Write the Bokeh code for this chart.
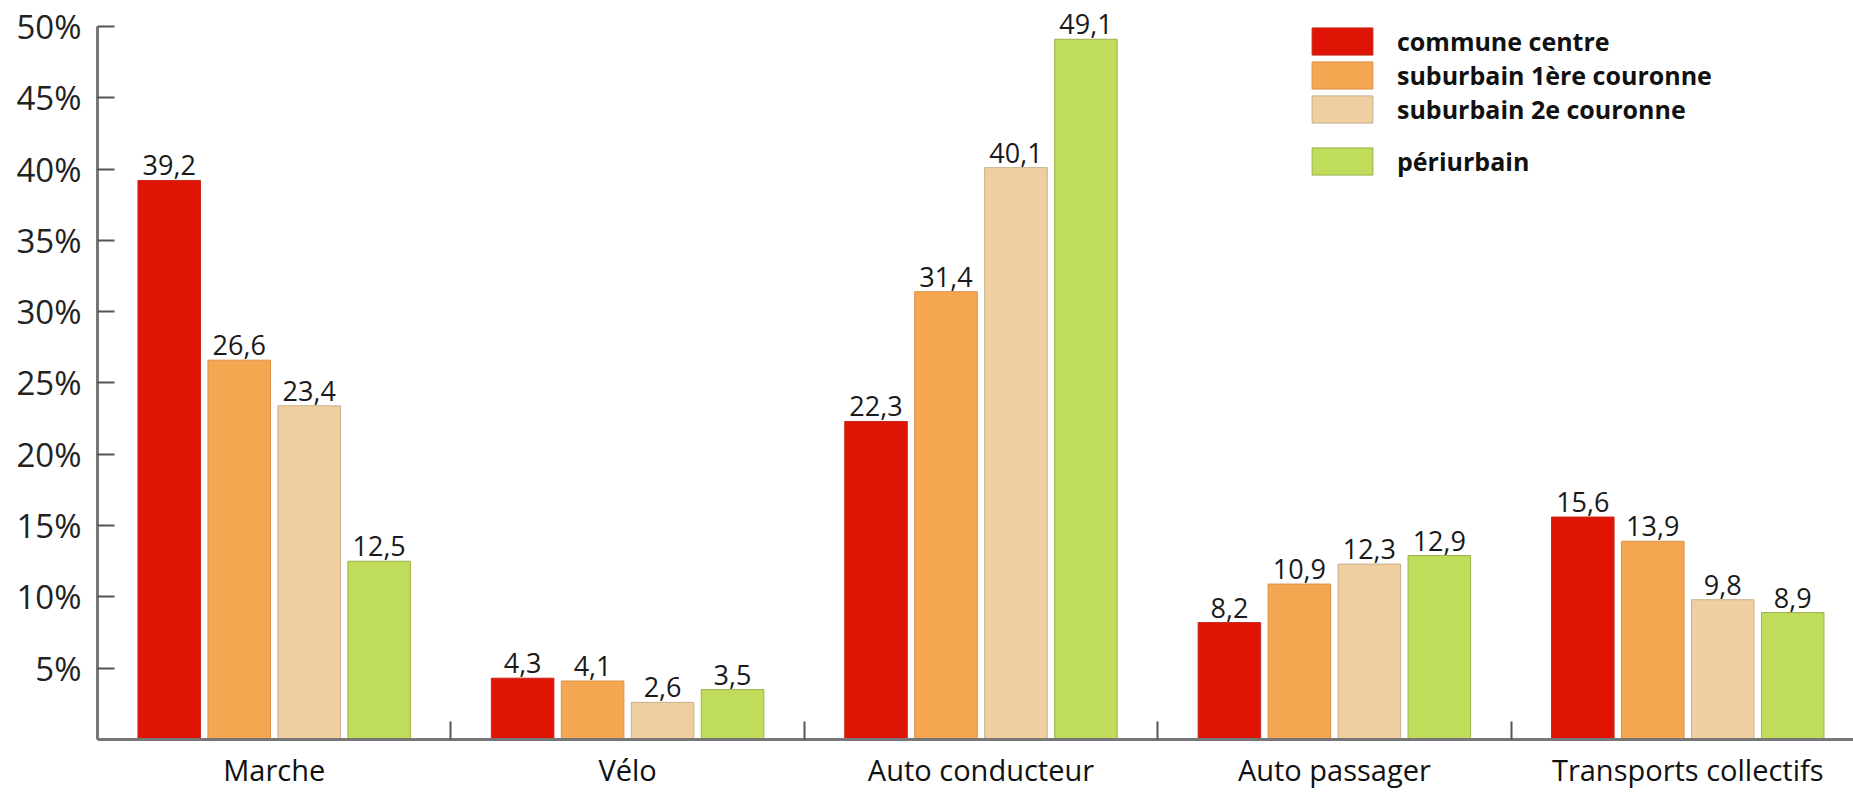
from bokeh.plotting import figure
from bokeh.models import FixedTicker, Legend, LegendItem, ColumnDataSource, Range1d
from bokeh.embed import file_html
from bokeh.resources import INLINE
from bokeh.core.properties import value

categories = ["Marche", "Vélo", "Auto conducteur", "Auto passager", "Transports collectifs"]
series_names = ["commune centre", "suburbain 1ère couronne", "suburbain 2e couronne", "périurbain"]
commune_centre = [39.2, 4.3, 22.3, 8.2, 15.6]
suburbain_1 = [26.6, 4.1, 31.4, 10.9, 13.9]
suburbain_2 = [23.4, 2.6, 40.1, 12.3, 9.8]
periurbain = [12.5, 3.5, 49.1, 12.9, 8.9]
y_ticks = [5, 10, 15, 20, 25, 30, 35, 40, 45, 50]

series = [commune_centre, suburbain_1, suburbain_2, periurbain]
fills = ["#E01404", "#F5A650", "#EFCFA0", "#BFDC5A"]
lines = ["#C8281C", "#D99048", "#C9B08C", "#9DB24E"]

FONT = "Open Sans"
n = len(categories)
stride = 0.198
bar_w = 0.177

p = figure(width=1853, height=792, output_backend="svg", toolbar_location=None,
           x_range=Range1d(0, 4.969), y_range=Range1d(0, 51.82),
           min_border_left=97, min_border_right=0, min_border_top=0, min_border_bottom=53)
p.outline_line_color = None
p.grid.grid_line_color = None
p.background_fill_color = "white"

renderers = []
for i, (vals, fc, lc) in enumerate(zip(series, fills, lines)):
    xs = [c + 0.5 + (i - 1.5) * stride for c in range(n)]
    src = ColumnDataSource(dict(x=xs, top=vals, lab=[f"{v:.1f}".replace(".", ",") for v in vals]))
    r = p.vbar(x="x", top="top", bottom=0, width=bar_w, source=src,
               fill_color=fc, line_color=lc, line_width=1)
    renderers.append(r)
    p.text(x="x", y="top", text="lab", source=src, text_align="center",
           text_baseline="bottom", y_offset=-5, text_font=value(FONT),
           text_font_size="27px", text_color="#1a1a1a")

# x axis
xa = p.xaxis[0]
xa.ticker = FixedTicker(ticks=[c + 0.5 for c in range(n)], minor_ticks=list(range(1, n)))
xa.major_label_overrides = {c + 0.5: categories[c] for c in range(n)}
xa.major_tick_line_color = None
xa.major_tick_in = 0
xa.major_tick_out = 0
xa.minor_tick_in = 18
xa.minor_tick_out = 0
xa.minor_tick_line_color = "#555555"
xa.minor_tick_line_width = 2
xa.axis_line_color = "#777777"
xa.axis_line_width = 3
xa.major_label_text_font = FONT
xa.major_label_text_font_size = "29px"
xa.major_label_text_color = "#111111"
xa.major_label_standoff = 10

ya = p.yaxis[0]
ya.ticker = FixedTicker(ticks=y_ticks)
ya.bounds = (0, 50)
ya.major_label_overrides = {t: f"{t}%" for t in y_ticks}
ya.major_tick_in = 17
ya.major_tick_out = 0
ya.major_tick_line_color = "#555555"
ya.major_tick_line_width = 2
ya.minor_tick_line_color = None
ya.axis_line_color = "#777777"
ya.axis_line_width = 3
ya.major_label_text_font = FONT
ya.major_label_text_font_size = "33px"
ya.major_label_text_color = "#222222"
ya.major_label_standoff = 16

def make_legend(items, loc):
    lg = Legend(items=items, location=loc, orientation="vertical",
                glyph_width=76, glyph_height=34, spacing=0, padding=0, margin=0,
                label_standoff=17, border_line_color=None, background_fill_alpha=0,
                label_text_font=FONT, label_text_font_style="bold",
                label_text_font_size="25px", label_text_color="#111111",
                label_height=30)
    return lg

leg1 = make_legend([LegendItem(label=series_names[i], renderers=[renderers[i]]) for i in range(3)], (1207, 613))
leg2 = make_legend([LegendItem(label=series_names[3], renderers=[renderers[3]])], (1207, 561))
p.add_layout(leg1)
p.add_layout(leg2)

open("out.html", "w").write(file_html(p, INLINE))
